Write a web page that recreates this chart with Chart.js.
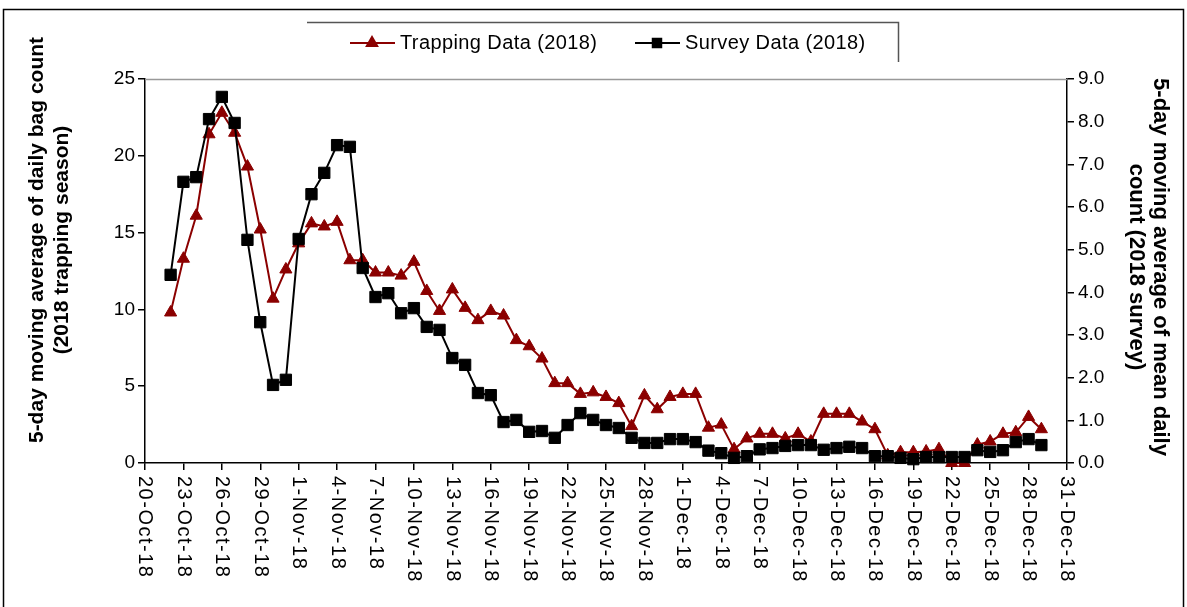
<!DOCTYPE html>
<html>
<head>
<meta charset="utf-8">
<script src="https://cdn.jsdelivr.net/npm/chart.js@4.4.1/dist/chart.umd.min.js"></script>
<style>
  html, body { margin: 0; padding: 0; background: #fff; }
  #wrap { width: 1187px; height: 607px; }
</style>
</head>
<body>
<div id="wrap"><canvas id="bagChart" width="1187" height="607"></canvas></div>
<script>
// jours depuis le 20-Oct-18 ; la premiere valeur est le 22-Oct-18
const firstDay = 2;

// moyenne mobile 5 jours, piegeage (axe gauche)
const trappingData = [
    9.8, 13.3, 16.1, 21.4, 22.8, 21.5, 19.3, 15.2, 10.7, 12.6,
    14.3, 15.6, 15.4, 15.7, 13.2, 13.2, 12.4, 12.4, 12.2, 13.1,
    11.2, 9.9, 11.3, 10.1, 9.3, 9.9, 9.6, 8.0, 7.6, 6.8,
    5.2, 5.2, 4.5, 4.6, 4.3, 3.9, 2.4, 4.4, 3.5, 4.3,
    4.5, 4.5, 2.3, 2.5, 0.9, 1.6, 1.9, 1.9, 1.6, 1.9,
    1.4, 3.2, 3.2, 3.2, 2.7, 2.2, 0.5, 0.7, 0.7, 0.75,
    0.9, 0.0, 0.0, 1.2, 1.4, 1.9, 2.0, 3.0, 2.2
];

// moyenne mobile 5 jours, enquete (axe droit)
const surveyData = [
    4.41, 6.59, 6.70, 8.06, 8.58, 7.97, 5.23, 3.30, 1.83, 1.95,
    5.25, 6.30, 6.80, 7.45, 7.41, 4.57, 3.89, 3.98, 3.51, 3.63,
    3.19, 3.12, 2.46, 2.30, 1.64, 1.59, 0.96, 1.01, 0.73, 0.75,
    0.59, 0.89, 1.17, 1.01, 0.89, 0.82, 0.59, 0.47, 0.47, 0.56,
    0.56, 0.49, 0.29, 0.23, 0.12, 0.16, 0.32, 0.35, 0.40, 0.42,
    0.42, 0.31, 0.35, 0.38, 0.35, 0.16, 0.16, 0.12, 0.09, 0.14,
    0.14, 0.14, 0.14, 0.30, 0.26, 0.30, 0.49, 0.56, 0.42
];

// etiquettes de l'axe X, tous les 3 jours
const xTickLabels = [
    "20-Oct-18", "23-Oct-18", "26-Oct-18", "29-Oct-18", "1-Nov-18", "4-Nov-18",
    "7-Nov-18", "10-Nov-18", "13-Nov-18", "16-Nov-18", "19-Nov-18", "22-Nov-18",
    "25-Nov-18", "28-Nov-18", "1-Dec-18", "4-Dec-18", "7-Dec-18", "10-Dec-18",
    "13-Dec-18", "16-Dec-18", "19-Dec-18", "22-Dec-18", "25-Dec-18", "28-Dec-18",
    "31-Dec-18"
];

const seriesLabels = ["Trapping Data (2018)", "Survey Data (2018)"];
const leftTitle = ["5-day moving average of daily bag count", "(2018 trapping season)"];
const rightTitle = ["5-day moving average of mean daily", "count (2018 survey)"];

const RED = '#8B0000';
const FONT = 'Liberation Sans, Arial, sans-serif';

const toPoints = arr => arr.map((v, i) => ({ x: firstDay + i, y: v }));

// titre d'axe vertical sur plusieurs lignes
function drawAxisTitle(ctx, lines, x, y, angle, step, size) {
    ctx.save();
    ctx.translate(x, y);
    ctx.rotate(angle);
    ctx.fillStyle = '#000';
    ctx.font = 'bold ' + size + 'px ' + FONT;
    ctx.textAlign = 'center';
    ctx.textBaseline = 'middle';
    lines.forEach((line, i) => ctx.fillText(line, 0, i * step));
    ctx.restore();
}

// fond blanc + cadre exterieur, ligne du haut, etiquettes X, titres, legende
const framePlugin = {
    id: 'frame',
    beforeDraw: (chart) => {
        const ctx = chart.ctx;
        ctx.save();
        ctx.fillStyle = '#fff';
        ctx.fillRect(0, 0, chart.width, chart.height);
        ctx.strokeStyle = '#000';
        ctx.lineWidth = 1.5;
        ctx.strokeRect(3.5, 9.5, chart.width - 7, chart.height);
        ctx.restore();
    },
    afterDraw: (chart) => {
        const ctx = chart.ctx;
        const area = chart.chartArea;
        const xScale = chart.scales.x;
        ctx.save();
        // ligne grise en haut de la zone de trace
        ctx.strokeStyle = '#999';
        ctx.lineWidth = 1.5;
        ctx.beginPath();
        ctx.moveTo(area.left, area.top + 0.5);
        ctx.lineTo(area.right, area.top + 0.5);
        ctx.stroke();

        // etiquettes X tournees vers le bas
        ctx.fillStyle = '#000';
        ctx.font = '20px ' + FONT;
        ctx.letterSpacing = '1.5px';
        ctx.textAlign = 'left';
        ctx.textBaseline = 'middle';
        xTickLabels.forEach((lab, i) => {
            const px = xScale.getPixelForValue(i * 3);
            ctx.save();
            ctx.translate(px, area.bottom + 13);
            ctx.rotate(Math.PI / 2);
            ctx.fillText(lab, 0, 0);
            ctx.restore();
        });
        ctx.letterSpacing = '0px';

        // titres des axes Y
        drawAxisTitle(ctx, leftTitle, 37, 240, -Math.PI / 2, 25, 21);
        drawAxisTitle(ctx, rightTitle, 1160, 267, Math.PI / 2, 24, 22);

        // boite de legende (haut + droite seulement)
        ctx.strokeStyle = '#555';
        ctx.lineWidth = 1.5;
        ctx.beginPath();
        ctx.moveTo(307, 22.5);
        ctx.lineTo(898.5, 22.5);
        ctx.lineTo(898.5, 62);
        ctx.stroke();

        const items = [
            { x: 350, color: RED, style: 'triangle', text: seriesLabels[0] },
            { x: 635, color: '#000', style: 'rect', text: seriesLabels[1] }
        ];
        items.forEach(it => {
            ctx.strokeStyle = it.color;
            ctx.lineWidth = 2;
            ctx.beginPath();
            ctx.moveTo(it.x, 43);
            ctx.lineTo(it.x + 45, 43);
            ctx.stroke();
            ctx.fillStyle = it.color;
            Chart.helpers.drawPoint(ctx, { pointStyle: it.style, radius: 6, borderWidth: 1 }, it.x + 22, 43);
            ctx.fillStyle = '#000';
            ctx.font = '20px ' + FONT;
            ctx.letterSpacing = '0.4px';
            ctx.textAlign = 'left';
            ctx.textBaseline = 'middle';
            ctx.fillText(it.text, it.x + 50, 43);
            ctx.letterSpacing = '0px';
        });
        ctx.restore();
    }
};

const ctx = document.getElementById('bagChart').getContext('2d');
new Chart(ctx, {
    type: 'line',
    data: {
        datasets: [
            {
                label: seriesLabels[1],
                data: toPoints(surveyData),
                yAxisID: 'y1',
                borderColor: '#000',
                backgroundColor: '#000',
                borderWidth: 2,
                pointStyle: 'rect',
                pointRadius: 8,
                pointBorderWidth: 1,
                clip: false,
                fill: false
            },
            {
                label: seriesLabels[0],
                data: toPoints(trappingData),
                yAxisID: 'y',
                borderColor: RED,
                backgroundColor: RED,
                borderWidth: 2,
                pointStyle: 'triangle',
                pointRadius: 7,
                pointBorderWidth: 1,
                clip: false,
                fill: false
            }
        ]
    },
    options: {
        responsive: false,
        animation: false,
        events: [],
        layout: { padding: { top: 79, left: 0, right: 0, bottom: 0 } },
        plugins: {
            legend: { display: false },
            tooltip: { enabled: false }
        },
        scales: {
            x: {
                type: 'linear',
                min: 0,
                max: 72,
                ticks: { display: false, stepSize: 3 },
                grid: { drawOnChartArea: false, drawTicks: true, tickLength: 7, color: '#000', lineWidth: 1.5 },
                border: { color: '#000', width: 1.5 },
                afterFit: (scale) => { scale.height = 144; }
            },
            y: {
                position: 'left',
                min: 0,
                max: 25,
                ticks: { stepSize: 5, color: '#000', padding: 3, font: { family: FONT, size: 19 } },
                grid: { drawOnChartArea: false, drawTicks: true, tickLength: 7, color: '#000', lineWidth: 1.5 },
                border: { color: '#000', width: 1.5 },
                afterFit: (scale) => { scale.width = 145; }
            },
            y1: {
                position: 'right',
                min: 0,
                max: 9,
                ticks: {
                    stepSize: 1,
                    color: '#000',
                    padding: 4,
                    font: { family: FONT, size: 19 },
                    callback: (v) => v.toFixed(1)
                },
                grid: { drawOnChartArea: false, drawTicks: true, tickLength: 7, color: '#000', lineWidth: 1.5 },
                border: { color: '#000', width: 1.5 },
                afterFit: (scale) => { scale.width = 120; }
            }
        }
    },
    plugins: [framePlugin]
});
</script>
</body>
</html>
